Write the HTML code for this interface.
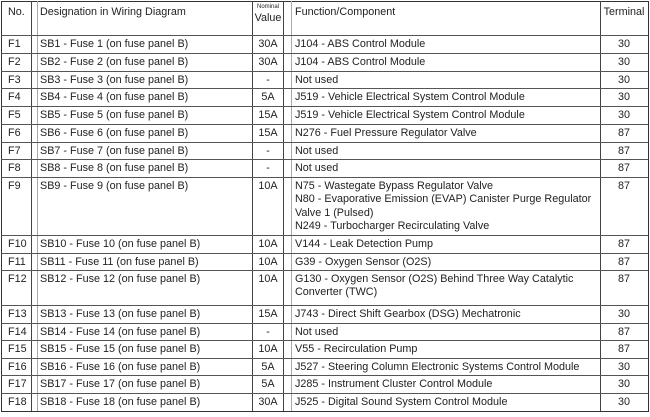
<!DOCTYPE html><html><head><style>
body{margin:0;background:#fff;width:650px;height:417px;overflow:hidden;font-family:"Liberation Sans",Arial,sans-serif;font-size:10.8px;color:#222}
.v{position:absolute;top:1px;height:410px;width:1px;background:#444}
.l{background:#aaa}
.r{position:absolute;left:1px;width:647px;border-top:1px solid #555}
.c{position:absolute;top:2px;line-height:13.3px;white-space:nowrap}
.n{left:7px}.d{left:39px}.val{left:251px;width:32px;text-align:center}.f{left:294px}.t{left:599px;width:48px;text-align:center}
</style></head><body>
<div style="position:absolute;left:1px;top:1px;width:646px;height:409px;border:1px solid #333"></div>
<div class="v" style="left:31px"></div><div class="v l" style="left:37px"></div>
<div class="v" style="left:252px"></div><div class="v" style="left:283px"></div><div class="v l" style="left:291px"></div>
<div class="v" style="left:600px"></div>
<div class="r" style="top:1px;height:34px;border-top:none">
<div class="c n" style="top:5px">No.</div><div class="c d" style="top:5px">Designation in Wiring Diagram</div>
<div class="c val" style="top:2px;font-size:6px;line-height:8px">Nominal</div><div class="c val" style="top:11px">Value</div>
<div class="c f" style="top:5px">Function/Component</div><div class="c t" style="top:5px">Terminal</div></div>
<div class="r" style="top:35px"><div class="c n">F1</div><div class="c d">SB1 - Fuse 1 (on fuse panel B)</div><div class="c val">30A</div><div class="c f">J104 - ABS Control Module</div><div class="c t">30</div></div>
<div class="r" style="top:52.75px"><div class="c n">F2</div><div class="c d">SB2 - Fuse 2 (on fuse panel B)</div><div class="c val">30A</div><div class="c f">J104 - ABS Control Module</div><div class="c t">30</div></div>
<div class="r" style="top:70.5px"><div class="c n">F3</div><div class="c d">SB3 - Fuse 3 (on fuse panel B)</div><div class="c val">-</div><div class="c f">Not used</div><div class="c t">30</div></div>
<div class="r" style="top:88.25px"><div class="c n">F4</div><div class="c d">SB4 - Fuse 4 (on fuse panel B)</div><div class="c val">5A</div><div class="c f">J519 - Vehicle Electrical System Control Module</div><div class="c t">30</div></div>
<div class="r" style="top:106px"><div class="c n">F5</div><div class="c d">SB5 - Fuse 5 (on fuse panel B)</div><div class="c val">15A</div><div class="c f">J519 - Vehicle Electrical System Control Module</div><div class="c t">30</div></div>
<div class="r" style="top:123.75px"><div class="c n">F6</div><div class="c d">SB6 - Fuse 6 (on fuse panel B)</div><div class="c val">15A</div><div class="c f">N276 - Fuel Pressure Regulator Valve</div><div class="c t">87</div></div>
<div class="r" style="top:141.5px"><div class="c n">F7</div><div class="c d">SB7 - Fuse 7 (on fuse panel B)</div><div class="c val">-</div><div class="c f">Not used</div><div class="c t">87</div></div>
<div class="r" style="top:159.25px"><div class="c n">F8</div><div class="c d">SB8 - Fuse 8 (on fuse panel B)</div><div class="c val">-</div><div class="c f">Not used</div><div class="c t">87</div></div>
<div class="r" style="top:177px"><div class="c n">F9</div><div class="c d">SB9 - Fuse 9 (on fuse panel B)</div><div class="c val">10A</div><div class="c f">N75 - Wastegate Bypass Regulator Valve<br>N80 - Evaporative Emission (EVAP) Canister Purge Regulator<br>Valve 1 (Pulsed)<br>N249 - Turbocharger Recirculating Valve</div><div class="c t">87</div></div>
<div class="r" style="top:235px"><div class="c n">F10</div><div class="c d">SB10 - Fuse 10 (on fuse panel B)</div><div class="c val">10A</div><div class="c f">V144 - Leak Detection Pump</div><div class="c t">87</div></div>
<div class="r" style="top:252.5px"><div class="c n">F11</div><div class="c d">SB11 - Fuse 11 (on fuse panel B)</div><div class="c val">10A</div><div class="c f">G39 - Oxygen Sensor (O2S)</div><div class="c t">87</div></div>
<div class="r" style="top:270px"><div class="c n">F12</div><div class="c d">SB12 - Fuse 12 (on fuse panel B)</div><div class="c val">10A</div><div class="c f">G130 - Oxygen Sensor (O2S) Behind Three Way Catalytic<br>Converter (TWC)</div><div class="c t">87</div></div>
<div class="r" style="top:305px"><div class="c n">F13</div><div class="c d">SB13 - Fuse 13 (on fuse panel B)</div><div class="c val">15A</div><div class="c f">J743 - Direct Shift Gearbox (DSG) Mechatronic</div><div class="c t">30</div></div>
<div class="r" style="top:322.6px"><div class="c n">F14</div><div class="c d">SB14 - Fuse 14 (on fuse panel B)</div><div class="c val">-</div><div class="c f">Not used</div><div class="c t">87</div></div>
<div class="r" style="top:340.2px"><div class="c n">F15</div><div class="c d">SB15 - Fuse 15 (on fuse panel B)</div><div class="c val">10A</div><div class="c f">V55 - Recirculation Pump</div><div class="c t">87</div></div>
<div class="r" style="top:357.8px"><div class="c n">F16</div><div class="c d">SB16 - Fuse 16 (on fuse panel B)</div><div class="c val">5A</div><div class="c f">J527 - Steering Column Electronic Systems Control Module</div><div class="c t">30</div></div>
<div class="r" style="top:375.4px"><div class="c n">F17</div><div class="c d">SB17 - Fuse 17 (on fuse panel B)</div><div class="c val">5A</div><div class="c f">J285 - Instrument Cluster Control Module</div><div class="c t">30</div></div>
<div class="r" style="top:393px"><div class="c n">F18</div><div class="c d">SB18 - Fuse 18 (on fuse panel B)</div><div class="c val">30A</div><div class="c f">J525 - Digital Sound System Control Module</div><div class="c t">30</div></div>
</body></html>
